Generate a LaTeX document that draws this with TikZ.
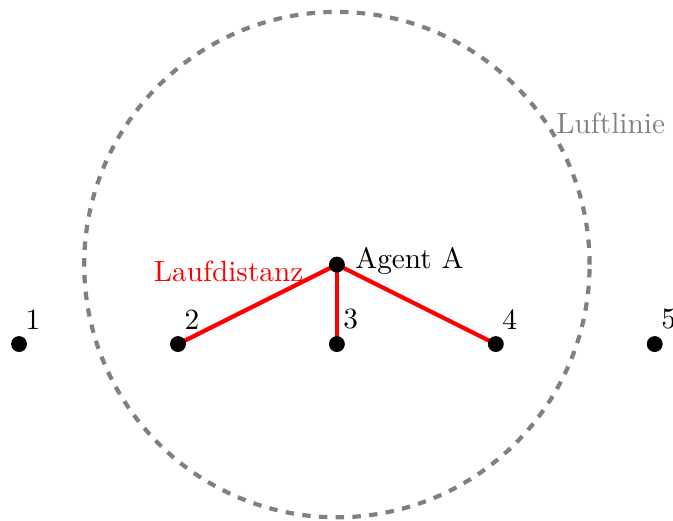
\documentclass[tikz,border=0pt]{standalone}
\usepackage{tikz}
\usetikzlibrary{positioning, calc}
\pgfdeclarelayer{background}
\pgfsetlayers{background,main}
\tikzset{
  every node/.style={font=\fontsize{10.5}{12.5}\selectfont},
  agent/.style={
    circle,
    fill=black,
    inner sep=0pt,
    minimum size=2mm
  },
  ort/.style={
    circle,
    fill=black,
    inner sep=0pt,
    minimum size=2mm,
    label={[inner sep=0pt, yshift=1mm]above right:#1}
  },
  lauf/.style={
    red,
    line width=1.5pt
  },
  luft/.style={
    gray,
    dashed,
    line width=1.5pt
  }
}
\begin{document}
\begin{tikzpicture}
          \useasboundingbox (-4.24, -3.22) rectangle (4.23, 3.33);
          \node[agent] (a) at (0, 0) {};
          \node[right=0mm of a, yshift=0.5mm] (aname) {Agent A};
          \node[ort=1] (p1) at (-4, -1) {};
          \node[ort=2] (p2) at (-2, -1) {};
          \node[ort=3] (p3) at (0, -1) {};
          \node[ort=4] (p4) at (2, -1) {};
          \node[ort=5] (p5) at (4, -1) {};

          \draw[luft] (a) circle (3.18);
          \node[gray, anchor=west] (luftlab) at (34:3.18) {Luftlinie};

          \begin{pgfonlayer}{background}
            \draw[lauf] (a.center) -- (p2.center);
            \draw[lauf] (a.center) -- (p3.center);
            \draw[lauf] (a.center) -- (p4.center);
          \end{pgfonlayer}
          \node[red, left=1.9mm of a, yshift=-0.9mm] (lauflab) {Laufdistanz};
        \end{tikzpicture}
\end{document}
